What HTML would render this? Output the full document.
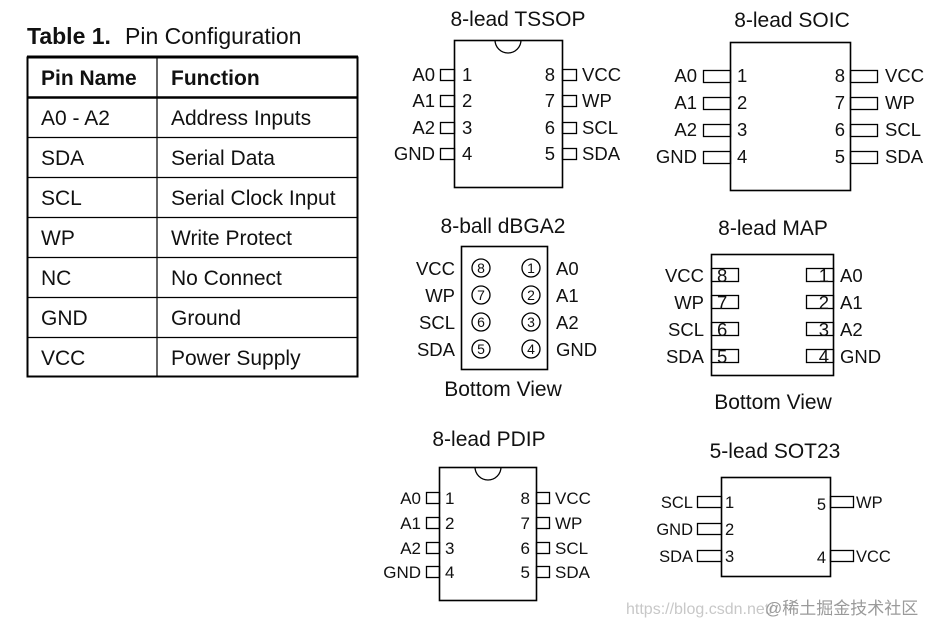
<!DOCTYPE html>
<html><head><meta charset="utf-8"><style>
html,body{margin:0;padding:0;background:#fff;}
svg{display:block;font-family:"Liberation Sans",Arial,sans-serif;}
text{fill:#111;}
</style></head><body>
<svg width="932" height="625" viewBox="0 0 932 625" xmlns="http://www.w3.org/2000/svg">
<!-- Table -->
<text x="27" y="44" font-size="23" font-weight="bold">Table 1.</text>
<text x="125" y="44" font-size="23">Pin Configuration</text>
<rect x="27.5" y="57.5" width="330" height="319" fill="none" stroke="#000" stroke-width="2"/>
<line x1="27" y1="57" x2="358" y2="57" stroke="#000" stroke-width="3"/>
<line x1="27" y1="97.5" x2="358" y2="97.5" stroke="#000" stroke-width="2.5"/>
<line x1="157" y1="57" x2="157" y2="377" stroke="#000" stroke-width="1.2"/>
<g stroke="#000" stroke-width="1.2">
<line x1="27" y1="137.5" x2="358" y2="137.5"/><line x1="27" y1="177.5" x2="358" y2="177.5"/>
<line x1="27" y1="217.5" x2="358" y2="217.5"/><line x1="27" y1="257.5" x2="358" y2="257.5"/>
<line x1="27" y1="297.5" x2="358" y2="297.5"/><line x1="27" y1="337.5" x2="358" y2="337.5"/>
</g>
<g font-size="21">
<text x="41" y="85" font-weight="bold">Pin Name</text><text x="171" y="85" font-weight="bold">Function</text>
<text x="41" y="125">A0 - A2</text><text x="171" y="125">Address Inputs</text>
<text x="41" y="165">SDA</text><text x="171" y="165">Serial Data</text>
<text x="41" y="205">SCL</text><text x="171" y="205">Serial Clock Input</text>
<text x="41" y="245">WP</text><text x="171" y="245">Write Protect</text>
<text x="41" y="285">NC</text><text x="171" y="285">No Connect</text>
<text x="41" y="325">GND</text><text x="171" y="325">Ground</text>
<text x="41" y="365">VCC</text><text x="171" y="365">Power Supply</text>
</g>

<g fill="none" stroke="#000" stroke-width="1.3">
<!-- TSSOP -->
<rect x="454.5" y="40.5" width="108" height="147" stroke-width="1.6"/>
<path d="M495,40 A13,13 0 0 0 521,40"/>
<rect x="440.5" y="69.5" width="14" height="11"/><rect x="440.5" y="95.5" width="14" height="11"/>
<rect x="440.5" y="122.5" width="14" height="11"/><rect x="440.5" y="148.5" width="14" height="11"/>
<rect x="562.5" y="69.5" width="14" height="11"/><rect x="562.5" y="95.5" width="14" height="11"/>
<rect x="562.5" y="122.5" width="14" height="11"/><rect x="562.5" y="148.5" width="14" height="11"/>
<!-- SOIC -->
<rect x="730.5" y="42.5" width="120" height="148" stroke-width="1.6"/>
<rect x="703.5" y="70.5" width="27" height="12"/><rect x="703.5" y="97.5" width="27" height="12"/>
<rect x="703.5" y="124.5" width="27" height="12"/><rect x="703.5" y="151.5" width="27" height="12"/>
<rect x="850.5" y="70.5" width="27" height="12"/><rect x="850.5" y="97.5" width="27" height="12"/>
<rect x="850.5" y="124.5" width="27" height="12"/><rect x="850.5" y="151.5" width="27" height="12"/>
<!-- dBGA2 -->
<rect x="461.5" y="246.5" width="86" height="123" stroke-width="1.6"/>
<circle cx="481" cy="268" r="9"/><circle cx="481" cy="295" r="9"/><circle cx="481" cy="322" r="9"/><circle cx="481" cy="349" r="9"/>
<circle cx="531" cy="268" r="9"/><circle cx="531" cy="295" r="9"/><circle cx="531" cy="322" r="9"/><circle cx="531" cy="349" r="9"/>
<!-- MAP -->
<rect x="711.5" y="254.5" width="122" height="121" stroke-width="1.6"/>
<rect x="711.5" y="268.5" width="27" height="13"/><rect x="711.5" y="295.5" width="27" height="13"/>
<rect x="711.5" y="322.5" width="27" height="13"/><rect x="711.5" y="349.5" width="27" height="13"/>
<rect x="806.5" y="268.5" width="27" height="13"/><rect x="806.5" y="295.5" width="27" height="13"/>
<rect x="806.5" y="322.5" width="27" height="13"/><rect x="806.5" y="349.5" width="27" height="13"/>
<!-- PDIP -->
<rect x="439.5" y="467.5" width="97" height="133" stroke-width="1.6"/>
<path d="M475,467 A13,13 0 0 0 501,467"/>
<rect x="426.5" y="492.5" width="13" height="11"/><rect x="426.5" y="517.5" width="13" height="11"/>
<rect x="426.5" y="542.5" width="13" height="11"/><rect x="426.5" y="566.5" width="13" height="11"/>
<rect x="536.5" y="492.5" width="13" height="11"/><rect x="536.5" y="517.5" width="13" height="11"/>
<rect x="536.5" y="542.5" width="13" height="11"/><rect x="536.5" y="566.5" width="13" height="11"/>
<!-- SOT23 -->
<rect x="721.5" y="477.5" width="109" height="99" stroke-width="1.6"/>
<rect x="697.5" y="496.5" width="24" height="11"/><rect x="697.5" y="523.5" width="24" height="11"/><rect x="697.5" y="550.5" width="24" height="11"/>
<rect x="830.5" y="496.5" width="23" height="11"/><rect x="830.5" y="550.5" width="23" height="11"/>
</g>

<g font-size="21" text-anchor="middle">
<text x="518" y="26">8-lead TSSOP</text>
<text x="792" y="27">8-lead SOIC</text>
<text x="503" y="233">8-ball dBGA2</text>
<text x="503" y="396">Bottom View</text>
<text x="773" y="235">8-lead MAP</text>
<text x="773" y="409">Bottom View</text>
<text x="489" y="446">8-lead PDIP</text>
<text x="775" y="458">5-lead SOT23</text>
</g>

<g font-size="18.5">
<!-- TSSOP -->
<g text-anchor="end"><text x="435" y="81">A0</text><text x="435" y="107">A1</text><text x="435" y="134">A2</text><text x="435" y="160">GND</text>
<text x="555" y="81">8</text><text x="555" y="107">7</text><text x="555" y="134">6</text><text x="555" y="160">5</text></g>
<text x="462" y="81">1</text><text x="462" y="107">2</text><text x="462" y="134">3</text><text x="462" y="160">4</text>
<text x="582" y="81">VCC</text><text x="582" y="107">WP</text><text x="582" y="134">SCL</text><text x="582" y="160">SDA</text>
<!-- SOIC -->
<g text-anchor="end"><text x="697" y="82">A0</text><text x="697" y="109">A1</text><text x="697" y="136">A2</text><text x="697" y="163">GND</text>
<text x="845" y="82">8</text><text x="845" y="109">7</text><text x="845" y="136">6</text><text x="845" y="163">5</text></g>
<text x="737" y="82">1</text><text x="737" y="109">2</text><text x="737" y="136">3</text><text x="737" y="163">4</text>
<text x="885" y="82">VCC</text><text x="885" y="109">WP</text><text x="885" y="136">SCL</text><text x="885" y="163">SDA</text>
<!-- dBGA2 -->
<g text-anchor="end"><text x="455" y="275">VCC</text><text x="455" y="302">WP</text><text x="455" y="329">SCL</text><text x="455" y="356">SDA</text></g>
<text x="556" y="275">A0</text><text x="556" y="302">A1</text><text x="556" y="329">A2</text><text x="556" y="356">GND</text>
<g text-anchor="middle" font-size="14">
<text x="481" y="273">8</text><text x="481" y="300">7</text><text x="481" y="327">6</text><text x="481" y="354">5</text>
<text x="531" y="273">1</text><text x="531" y="300">2</text><text x="531" y="327">3</text><text x="531" y="354">4</text></g>
<!-- MAP -->
<g text-anchor="end"><text x="704" y="282">VCC</text><text x="704" y="309">WP</text><text x="704" y="336">SCL</text><text x="704" y="363">SDA</text>
<text x="829" y="282">1</text><text x="829" y="309">2</text><text x="829" y="336">3</text><text x="829" y="363">4</text></g>
<text x="717" y="282">8</text><text x="717" y="309">7</text><text x="717" y="336">6</text><text x="717" y="363">5</text>
<text x="840" y="282">A0</text><text x="840" y="309">A1</text><text x="840" y="336">A2</text><text x="840" y="363">GND</text>
</g>
<g font-size="17">
<!-- PDIP -->
<g text-anchor="end"><text x="421" y="504">A0</text><text x="421" y="529">A1</text><text x="421" y="554">A2</text><text x="421" y="578">GND</text>
<text x="530" y="504">8</text><text x="530" y="529">7</text><text x="530" y="554">6</text><text x="530" y="578">5</text></g>
<text x="445" y="504">1</text><text x="445" y="529">2</text><text x="445" y="554">3</text><text x="445" y="578">4</text>
<text x="555" y="504">VCC</text><text x="555" y="529">WP</text><text x="555" y="554">SCL</text><text x="555" y="578">SDA</text>
</g>
<g font-size="16.5">
<g text-anchor="end"><text x="693" y="508">SCL</text><text x="693" y="535">GND</text><text x="693" y="562">SDA</text>
<text x="826" y="510">5</text><text x="826" y="563">4</text></g>
<text x="725" y="508">1</text><text x="725" y="535">2</text><text x="725" y="562">3</text>
<text x="856" y="508">WP</text><text x="856" y="562">VCC</text>
</g>
<text x="626" y="614" font-size="16" style="fill:#c8c8c8" font-family="'Liberation Sans','Noto Sans CJK SC',sans-serif">https://blog.csdn.net/</text>
<text x="765" y="614" font-size="17" style="fill:#9a9a9a" font-family="'Liberation Sans','Noto Sans CJK SC',sans-serif">@稀土掘金技术社区</text>
</svg>
</body></html>
